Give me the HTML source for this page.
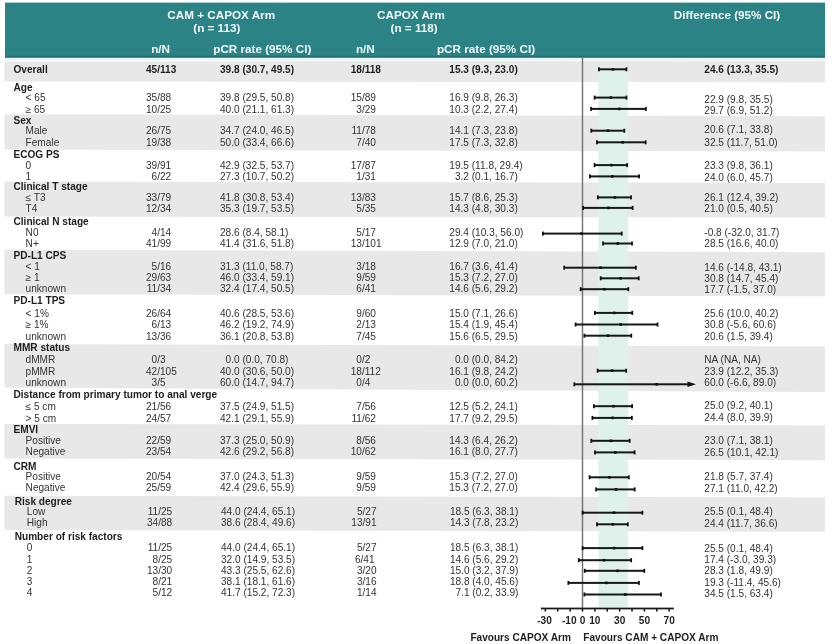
<!DOCTYPE html>
<html><head><meta charset="utf-8"><title>Forest plot</title>
<style>
html,body{margin:0;padding:0;background:#fff;}
body{width:832px;height:644px;position:relative;overflow:hidden;font-family:"Liberation Sans",sans-serif;}
svg text{font-family:"Liberation Sans",sans-serif;}
svg{will-change:transform;filter:blur(0.3px);}
</style></head><body>
<svg width="832" height="644" viewBox="0 0 832 644" style="position:absolute;left:0;top:0">
<rect x="5" y="2.6" width="820" height="55.2" fill="#2b8386"/>
<rect x="5" y="55.8" width="820" height="2" fill="#1f6e72"/>
<rect x="4.5" y="57.8" width="820.5" height="2.6" fill="#e6f6f7"/>
<polygon points="4.4,61.4 825.0,60.8 825.0,82.4 4.4,81.4" fill="#e8e8e8"/>
<polygon points="4.4,114.2 825.0,116.2 825.0,151.4 4.4,149.6" fill="#e8e8e8"/>
<polygon points="4.4,181.5 825.0,182.8 825.0,217.6 4.4,216.6" fill="#e8e8e8"/>
<polygon points="4.4,249.7 825.0,252.2 825.0,296.3 4.4,294.2" fill="#e8e8e8"/>
<polygon points="4.4,343.9 825.0,346.4 825.0,392.0 4.4,387.6" fill="#e8e8e8"/>
<polygon points="4.4,423.9 825.0,425.4 825.0,460.2 4.4,458.6" fill="#e8e8e8"/>
<polygon points="4.4,495.8 825.0,497.5 825.0,531.8 4.4,530.0" fill="#e8e8e8"/>
<rect x="598.4" y="70.5" width="29.60" height="536.5" fill="#dff1eb"/>
<rect x="581.80" y="57.6" width="1.4" height="551" fill="#707070"/>
<rect x="540.8" y="607.6" width="133" height="1.8" fill="#1a1a1a"/>
<rect x="544.61" y="608" width="1.5" height="3.6" fill="#1a1a1a"/>
<rect x="556.99" y="608" width="1.5" height="3.6" fill="#1a1a1a"/>
<rect x="569.37" y="608" width="1.5" height="3.6" fill="#1a1a1a"/>
<rect x="581.75" y="608" width="1.5" height="3.6" fill="#1a1a1a"/>
<rect x="594.13" y="608" width="1.5" height="3.6" fill="#1a1a1a"/>
<rect x="606.51" y="608" width="1.5" height="3.6" fill="#1a1a1a"/>
<rect x="618.89" y="608" width="1.5" height="3.6" fill="#1a1a1a"/>
<rect x="631.27" y="608" width="1.5" height="3.6" fill="#1a1a1a"/>
<rect x="643.65" y="608" width="1.5" height="3.6" fill="#1a1a1a"/>
<rect x="656.03" y="608" width="1.5" height="3.6" fill="#1a1a1a"/>
<rect x="668.41" y="608" width="1.5" height="3.6" fill="#1a1a1a"/>
<rect x="598.97" y="68.30" width="27.48" height="2" fill="#151a19"/>
<rect x="598.07" y="67.30" width="1.8" height="4" fill="#111"/>
<rect x="625.55" y="67.30" width="1.8" height="4" fill="#111"/>
<rect x="611.65" y="68.00" width="2.6" height="2.6" fill="#111"/>
<rect x="594.63" y="96.60" width="31.82" height="2" fill="#151a19"/>
<rect x="593.73" y="95.60" width="1.8" height="4" fill="#111"/>
<rect x="625.55" y="95.60" width="1.8" height="4" fill="#111"/>
<rect x="609.55" y="96.30" width="2.6" height="2.6" fill="#111"/>
<rect x="591.04" y="107.90" width="54.84" height="2" fill="#151a19"/>
<rect x="590.14" y="106.90" width="1.8" height="4" fill="#111"/>
<rect x="644.99" y="106.90" width="1.8" height="4" fill="#111"/>
<rect x="617.97" y="107.60" width="2.6" height="2.6" fill="#111"/>
<rect x="591.29" y="129.70" width="33.05" height="2" fill="#151a19"/>
<rect x="590.39" y="128.70" width="1.8" height="4" fill="#111"/>
<rect x="623.44" y="128.70" width="1.8" height="4" fill="#111"/>
<rect x="606.70" y="129.40" width="2.6" height="2.6" fill="#111"/>
<rect x="596.98" y="141.30" width="48.65" height="2" fill="#151a19"/>
<rect x="596.08" y="140.30" width="1.8" height="4" fill="#111"/>
<rect x="644.74" y="140.30" width="1.8" height="4" fill="#111"/>
<rect x="621.44" y="141.00" width="2.6" height="2.6" fill="#111"/>
<rect x="594.63" y="164.10" width="32.56" height="2" fill="#151a19"/>
<rect x="593.73" y="163.10" width="1.8" height="4" fill="#111"/>
<rect x="626.29" y="163.10" width="1.8" height="4" fill="#111"/>
<rect x="610.05" y="163.80" width="2.6" height="2.6" fill="#111"/>
<rect x="589.93" y="175.40" width="49.15" height="2" fill="#151a19"/>
<rect x="589.03" y="174.40" width="1.8" height="4" fill="#111"/>
<rect x="638.18" y="174.40" width="1.8" height="4" fill="#111"/>
<rect x="610.91" y="175.10" width="2.6" height="2.6" fill="#111"/>
<rect x="597.85" y="196.40" width="33.18" height="2" fill="#151a19"/>
<rect x="596.95" y="195.40" width="1.8" height="4" fill="#111"/>
<rect x="630.13" y="195.40" width="1.8" height="4" fill="#111"/>
<rect x="613.51" y="196.10" width="2.6" height="2.6" fill="#111"/>
<rect x="583.12" y="206.90" width="49.52" height="2" fill="#151a19"/>
<rect x="582.22" y="205.90" width="1.8" height="4" fill="#111"/>
<rect x="631.74" y="205.90" width="1.8" height="4" fill="#111"/>
<rect x="607.20" y="206.60" width="2.6" height="2.6" fill="#111"/>
<rect x="542.88" y="232.60" width="78.86" height="2" fill="#151a19"/>
<rect x="541.98" y="231.60" width="1.8" height="4" fill="#111"/>
<rect x="620.84" y="231.60" width="1.8" height="4" fill="#111"/>
<rect x="580.21" y="232.30" width="2.6" height="2.6" fill="#111"/>
<rect x="603.05" y="242.50" width="28.97" height="2" fill="#151a19"/>
<rect x="602.15" y="241.50" width="1.8" height="4" fill="#111"/>
<rect x="631.12" y="241.50" width="1.8" height="4" fill="#111"/>
<rect x="616.48" y="242.20" width="2.6" height="2.6" fill="#111"/>
<rect x="564.18" y="266.70" width="71.68" height="2" fill="#151a19"/>
<rect x="563.28" y="265.70" width="1.8" height="4" fill="#111"/>
<rect x="634.96" y="265.70" width="1.8" height="4" fill="#111"/>
<rect x="599.27" y="266.40" width="2.6" height="2.6" fill="#111"/>
<rect x="600.70" y="277.30" width="38.01" height="2" fill="#151a19"/>
<rect x="599.80" y="276.30" width="1.8" height="4" fill="#111"/>
<rect x="637.81" y="276.30" width="1.8" height="4" fill="#111"/>
<rect x="619.33" y="277.00" width="2.6" height="2.6" fill="#111"/>
<rect x="580.64" y="288.20" width="47.66" height="2" fill="#151a19"/>
<rect x="579.74" y="287.20" width="1.8" height="4" fill="#111"/>
<rect x="627.41" y="287.20" width="1.8" height="4" fill="#111"/>
<rect x="603.11" y="287.90" width="2.6" height="2.6" fill="#111"/>
<rect x="594.88" y="311.90" width="37.39" height="2" fill="#151a19"/>
<rect x="593.98" y="310.90" width="1.8" height="4" fill="#111"/>
<rect x="631.37" y="310.90" width="1.8" height="4" fill="#111"/>
<rect x="612.89" y="311.60" width="2.6" height="2.6" fill="#111"/>
<rect x="575.57" y="323.50" width="81.96" height="2" fill="#151a19"/>
<rect x="574.67" y="322.50" width="1.8" height="4" fill="#111"/>
<rect x="656.62" y="322.50" width="1.8" height="4" fill="#111"/>
<rect x="619.33" y="323.20" width="2.6" height="2.6" fill="#111"/>
<rect x="584.36" y="334.70" width="46.92" height="2" fill="#151a19"/>
<rect x="583.46" y="333.70" width="1.8" height="4" fill="#111"/>
<rect x="630.38" y="333.70" width="1.8" height="4" fill="#111"/>
<rect x="606.70" y="334.40" width="2.6" height="2.6" fill="#111"/>
<rect x="597.60" y="369.70" width="28.60" height="2" fill="#151a19"/>
<rect x="596.70" y="368.70" width="1.8" height="4" fill="#111"/>
<rect x="625.30" y="368.70" width="1.8" height="4" fill="#111"/>
<rect x="610.79" y="369.40" width="2.6" height="2.6" fill="#111"/>
<rect x="574.33" y="383.30" width="113.67" height="2" fill="#151a19"/>
<rect x="573.43" y="382.30" width="1.8" height="4" fill="#111"/>
<path d="M687.5 381.60 L696 384.30 L687.5 387.00 Z" fill="#111"/>
<rect x="655.48" y="383.00" width="2.6" height="2.6" fill="#111"/>
<rect x="593.89" y="405.20" width="38.25" height="2" fill="#151a19"/>
<rect x="592.99" y="404.20" width="1.8" height="4" fill="#111"/>
<rect x="631.24" y="404.20" width="1.8" height="4" fill="#111"/>
<rect x="612.15" y="404.90" width="2.6" height="2.6" fill="#111"/>
<rect x="592.40" y="416.90" width="39.49" height="2" fill="#151a19"/>
<rect x="591.50" y="415.90" width="1.8" height="4" fill="#111"/>
<rect x="631.00" y="415.90" width="1.8" height="4" fill="#111"/>
<rect x="611.41" y="416.60" width="2.6" height="2.6" fill="#111"/>
<rect x="591.29" y="439.80" width="38.38" height="2" fill="#151a19"/>
<rect x="590.39" y="438.80" width="1.8" height="4" fill="#111"/>
<rect x="628.77" y="438.80" width="1.8" height="4" fill="#111"/>
<rect x="609.67" y="439.50" width="2.6" height="2.6" fill="#111"/>
<rect x="595.00" y="451.40" width="39.62" height="2" fill="#151a19"/>
<rect x="594.10" y="450.40" width="1.8" height="4" fill="#111"/>
<rect x="633.72" y="450.40" width="1.8" height="4" fill="#111"/>
<rect x="614.01" y="451.10" width="2.6" height="2.6" fill="#111"/>
<rect x="589.56" y="476.30" width="39.24" height="2" fill="#151a19"/>
<rect x="588.66" y="475.30" width="1.8" height="4" fill="#111"/>
<rect x="627.90" y="475.30" width="1.8" height="4" fill="#111"/>
<rect x="608.19" y="476.00" width="2.6" height="2.6" fill="#111"/>
<rect x="596.12" y="488.40" width="38.63" height="2" fill="#151a19"/>
<rect x="595.22" y="487.40" width="1.8" height="4" fill="#111"/>
<rect x="633.84" y="487.40" width="1.8" height="4" fill="#111"/>
<rect x="614.75" y="488.10" width="2.6" height="2.6" fill="#111"/>
<rect x="582.62" y="511.70" width="59.80" height="2" fill="#151a19"/>
<rect x="581.72" y="510.70" width="1.8" height="4" fill="#111"/>
<rect x="641.52" y="510.70" width="1.8" height="4" fill="#111"/>
<rect x="612.77" y="511.40" width="2.6" height="2.6" fill="#111"/>
<rect x="596.98" y="523.30" width="30.83" height="2" fill="#151a19"/>
<rect x="596.08" y="522.30" width="1.8" height="4" fill="#111"/>
<rect x="626.91" y="522.30" width="1.8" height="4" fill="#111"/>
<rect x="611.41" y="523.00" width="2.6" height="2.6" fill="#111"/>
<rect x="582.62" y="547.10" width="59.80" height="2" fill="#151a19"/>
<rect x="581.72" y="546.10" width="1.8" height="4" fill="#111"/>
<rect x="641.52" y="546.10" width="1.8" height="4" fill="#111"/>
<rect x="612.77" y="546.80" width="2.6" height="2.6" fill="#111"/>
<rect x="578.79" y="559.20" width="52.37" height="2" fill="#151a19"/>
<rect x="577.89" y="558.20" width="1.8" height="4" fill="#111"/>
<rect x="630.25" y="558.20" width="1.8" height="4" fill="#111"/>
<rect x="602.74" y="558.90" width="2.6" height="2.6" fill="#111"/>
<rect x="584.73" y="569.80" width="59.55" height="2" fill="#151a19"/>
<rect x="583.83" y="568.80" width="1.8" height="4" fill="#111"/>
<rect x="643.38" y="568.80" width="1.8" height="4" fill="#111"/>
<rect x="616.24" y="569.50" width="2.6" height="2.6" fill="#111"/>
<rect x="568.39" y="581.90" width="70.57" height="2" fill="#151a19"/>
<rect x="567.49" y="580.90" width="1.8" height="4" fill="#111"/>
<rect x="638.05" y="580.90" width="1.8" height="4" fill="#111"/>
<rect x="605.09" y="581.60" width="2.6" height="2.6" fill="#111"/>
<rect x="584.36" y="593.50" width="76.63" height="2" fill="#151a19"/>
<rect x="583.46" y="592.50" width="1.8" height="4" fill="#111"/>
<rect x="660.09" y="592.50" width="1.8" height="4" fill="#111"/>
<rect x="623.91" y="593.20" width="2.6" height="2.6" fill="#111"/>
<text x="221.20" y="19.40" font-size="11.7" font-weight="bold" text-anchor="middle" fill="#f2f8f8">CAM + CAPOX Arm</text>
<text x="216.80" y="31.80" font-size="11.7" font-weight="bold" text-anchor="middle" fill="#f2f8f8">(n = 113)</text>
<text x="160.60" y="52.80" font-size="11.7" font-weight="bold" text-anchor="middle" fill="#f2f8f8">n/N</text>
<text x="262.30" y="52.80" font-size="11.7" font-weight="bold" text-anchor="middle" fill="#f2f8f8">pCR rate (95% CI)</text>
<text x="410.90" y="19.40" font-size="11.7" font-weight="bold" text-anchor="middle" fill="#f2f8f8">CAPOX Arm</text>
<text x="414.10" y="31.80" font-size="11.7" font-weight="bold" text-anchor="middle" fill="#f2f8f8">(n = 118)</text>
<text x="365.40" y="52.80" font-size="11.7" font-weight="bold" text-anchor="middle" fill="#f2f8f8">n/N</text>
<text x="486.00" y="52.80" font-size="11.7" font-weight="bold" text-anchor="middle" fill="#f2f8f8">pCR rate (95% CI)</text>
<text x="727.00" y="19.40" font-size="11.7" font-weight="bold" text-anchor="middle" fill="#f2f8f8">Difference (95% CI)</text>
<text x="13.50" y="73.20" font-size="10.1" font-weight="bold" fill="#1e1e1e">Overall</text>
<text x="157.20" y="73.20" font-size="10.1" font-weight="bold" text-anchor="end" fill="#1e1e1e">45</text>
<text x="157.20" y="73.20" font-size="10.1" font-weight="bold" fill="#1e1e1e">/113</text>
<text x="220.00" y="73.20" font-size="10.1" font-weight="bold" fill="#1e1e1e">39.8 (30.7, 49.5)</text>
<text x="361.90" y="73.20" font-size="10.1" font-weight="bold" text-anchor="end" fill="#1e1e1e">18</text>
<text x="361.90" y="73.20" font-size="10.1" font-weight="bold" fill="#1e1e1e">/118</text>
<text x="449.30" y="73.20" font-size="10.1" font-weight="bold" fill="#1e1e1e">15.3 (9.3, 23.0)</text>
<text x="704.30" y="72.90" font-size="10.1" font-weight="bold" fill="#1e1e1e">24.6 (13.3, 35.5)</text>
<text x="13.50" y="90.60" font-size="10.1" font-weight="bold" fill="#1e1e1e">Age</text>
<text x="25.60" y="100.70" font-size="10.1" fill="#333333">&lt; 65</text>
<text x="157.20" y="100.70" font-size="10.1" text-anchor="end" fill="#333333">35</text>
<text x="157.20" y="100.70" font-size="10.1" fill="#333333">/88</text>
<text x="220.00" y="100.70" font-size="10.1" fill="#333333">39.8 (29.5, 50.8)</text>
<text x="361.90" y="100.70" font-size="10.1" text-anchor="end" fill="#333333">15</text>
<text x="361.90" y="100.70" font-size="10.1" fill="#333333">/89</text>
<text x="449.30" y="100.70" font-size="10.1" fill="#333333">16.9 (9.8, 26.3)</text>
<text x="704.30" y="102.80" font-size="10.1" fill="#333333">22.9 (9.8, 35.5)</text>
<text x="25.60" y="112.50" font-size="10.1" fill="#333333">≥ 65</text>
<text x="157.20" y="112.50" font-size="10.1" text-anchor="end" fill="#333333">10</text>
<text x="157.20" y="112.50" font-size="10.1" fill="#333333">/25</text>
<text x="220.00" y="112.50" font-size="10.1" fill="#333333">40.0 (21.1, 61.3)</text>
<text x="361.90" y="112.50" font-size="10.1" text-anchor="end" fill="#333333">3</text>
<text x="361.90" y="112.50" font-size="10.1" fill="#333333">/29</text>
<text x="449.30" y="112.50" font-size="10.1" fill="#333333">10.3 (2.2, 27.4)</text>
<text x="704.30" y="113.60" font-size="10.1" fill="#333333">29.7 (6.9, 51.2)</text>
<text x="13.50" y="123.70" font-size="10.1" font-weight="bold" fill="#1e1e1e">Sex</text>
<text x="25.60" y="134.20" font-size="10.1" fill="#333333">Male</text>
<text x="157.20" y="134.20" font-size="10.1" text-anchor="end" fill="#333333">26</text>
<text x="157.20" y="134.20" font-size="10.1" fill="#333333">/75</text>
<text x="220.00" y="134.20" font-size="10.1" fill="#333333">34.7 (24.0, 46.5)</text>
<text x="361.90" y="134.20" font-size="10.1" text-anchor="end" fill="#333333">11</text>
<text x="361.90" y="134.20" font-size="10.1" fill="#333333">/78</text>
<text x="449.30" y="134.20" font-size="10.1" fill="#333333">14.1 (7.3, 23.8)</text>
<text x="704.30" y="132.50" font-size="10.1" fill="#333333">20.6 (7.1, 33.8)</text>
<text x="25.60" y="145.70" font-size="10.1" fill="#333333">Female</text>
<text x="157.20" y="145.70" font-size="10.1" text-anchor="end" fill="#333333">19</text>
<text x="157.20" y="145.70" font-size="10.1" fill="#333333">/38</text>
<text x="220.00" y="145.70" font-size="10.1" fill="#333333">50.0 (33.4, 66.6)</text>
<text x="361.90" y="145.70" font-size="10.1" text-anchor="end" fill="#333333">7</text>
<text x="361.90" y="145.70" font-size="10.1" fill="#333333">/40</text>
<text x="449.30" y="145.70" font-size="10.1" fill="#333333">17.5 (7.3, 32.8)</text>
<text x="704.30" y="145.60" font-size="10.1" fill="#333333">32.5 (11.7, 51.0)</text>
<text x="13.50" y="158.10" font-size="10.1" font-weight="bold" fill="#1e1e1e">ECOG PS</text>
<text x="25.60" y="168.60" font-size="10.1" fill="#333333">0</text>
<text x="157.20" y="168.60" font-size="10.1" text-anchor="end" fill="#333333">39</text>
<text x="157.20" y="168.60" font-size="10.1" fill="#333333">/91</text>
<text x="220.00" y="168.60" font-size="10.1" fill="#333333">42.9 (32.5, 53.7)</text>
<text x="361.90" y="168.60" font-size="10.1" text-anchor="end" fill="#333333">17</text>
<text x="361.90" y="168.60" font-size="10.1" fill="#333333">/87</text>
<text x="449.30" y="168.60" font-size="10.1" fill="#333333">19.5 (11.8, 29.4)</text>
<text x="704.30" y="168.70" font-size="10.1" fill="#333333">23.3 (9.8, 36.1)</text>
<text x="25.60" y="179.50" font-size="10.1" fill="#333333">1</text>
<text x="157.20" y="179.50" font-size="10.1" text-anchor="end" fill="#333333">6</text>
<text x="157.20" y="179.50" font-size="10.1" fill="#333333">/22</text>
<text x="220.00" y="179.50" font-size="10.1" fill="#333333">27.3 (10.7, 50.2)</text>
<text x="361.90" y="179.50" font-size="10.1" text-anchor="end" fill="#333333">1</text>
<text x="361.90" y="179.50" font-size="10.1" fill="#333333">/31</text>
<text x="454.92" y="179.50" font-size="10.1" fill="#333333">3.2 (0.1, 16.7)</text>
<text x="704.30" y="180.80" font-size="10.1" fill="#333333">24.0 (6.0, 45.7)</text>
<text x="13.50" y="190.00" font-size="10.1" font-weight="bold" fill="#1e1e1e">Clinical T stage</text>
<text x="25.60" y="201.00" font-size="10.1" fill="#333333">≤ T3</text>
<text x="157.20" y="201.00" font-size="10.1" text-anchor="end" fill="#333333">33</text>
<text x="157.20" y="201.00" font-size="10.1" fill="#333333">/79</text>
<text x="220.00" y="201.00" font-size="10.1" fill="#333333">41.8 (30.8, 53.4)</text>
<text x="361.90" y="201.00" font-size="10.1" text-anchor="end" fill="#333333">13</text>
<text x="361.90" y="201.00" font-size="10.1" fill="#333333">/83</text>
<text x="449.30" y="201.00" font-size="10.1" fill="#333333">15.7 (8.6, 25.3)</text>
<text x="704.30" y="200.50" font-size="10.1" fill="#333333">26.1 (12.4, 39.2)</text>
<text x="25.60" y="212.10" font-size="10.1" fill="#333333">T4</text>
<text x="157.20" y="212.10" font-size="10.1" text-anchor="end" fill="#333333">12</text>
<text x="157.20" y="212.10" font-size="10.1" fill="#333333">/34</text>
<text x="220.00" y="212.10" font-size="10.1" fill="#333333">35.3 (19.7, 53.5)</text>
<text x="361.90" y="212.10" font-size="10.1" text-anchor="end" fill="#333333">5</text>
<text x="361.90" y="212.10" font-size="10.1" fill="#333333">/35</text>
<text x="449.30" y="212.10" font-size="10.1" fill="#333333">14.3 (4.8, 30.3)</text>
<text x="704.30" y="212.10" font-size="10.1" fill="#333333">21.0 (0.5, 40.5)</text>
<text x="13.50" y="224.50" font-size="10.1" font-weight="bold" fill="#1e1e1e">Clinical N stage</text>
<text x="25.60" y="236.20" font-size="10.1" fill="#333333">N0</text>
<text x="157.20" y="236.20" font-size="10.1" text-anchor="end" fill="#333333">4</text>
<text x="157.20" y="236.20" font-size="10.1" fill="#333333">/14</text>
<text x="220.00" y="236.20" font-size="10.1" fill="#333333">28.6 (8.4, 58.1)</text>
<text x="361.90" y="236.20" font-size="10.1" text-anchor="end" fill="#333333">5</text>
<text x="361.90" y="236.20" font-size="10.1" fill="#333333">/17</text>
<text x="449.30" y="236.20" font-size="10.1" fill="#333333">29.4 (10.3, 56.0)</text>
<text x="704.30" y="235.80" font-size="10.1" fill="#333333">-0.8 (-32.0, 31.7)</text>
<text x="25.60" y="247.00" font-size="10.1" fill="#333333">N+</text>
<text x="157.20" y="247.00" font-size="10.1" text-anchor="end" fill="#333333">41</text>
<text x="157.20" y="247.00" font-size="10.1" fill="#333333">/99</text>
<text x="220.00" y="247.00" font-size="10.1" fill="#333333">41.4 (31.6, 51.8)</text>
<text x="361.90" y="247.00" font-size="10.1" text-anchor="end" fill="#333333">13</text>
<text x="361.90" y="247.00" font-size="10.1" fill="#333333">/101</text>
<text x="449.30" y="247.00" font-size="10.1" fill="#333333">12.9 (7.0, 21.0)</text>
<text x="704.30" y="246.90" font-size="10.1" fill="#333333">28.5 (16.6, 40.0)</text>
<text x="13.50" y="259.00" font-size="10.1" font-weight="bold" fill="#1e1e1e">PD-L1 CPS</text>
<text x="25.60" y="270.30" font-size="10.1" fill="#333333">&lt; 1</text>
<text x="157.20" y="270.30" font-size="10.1" text-anchor="end" fill="#333333">5</text>
<text x="157.20" y="270.30" font-size="10.1" fill="#333333">/16</text>
<text x="220.00" y="270.30" font-size="10.1" fill="#333333">31.3 (11.0, 58.7)</text>
<text x="361.90" y="270.30" font-size="10.1" text-anchor="end" fill="#333333">3</text>
<text x="361.90" y="270.30" font-size="10.1" fill="#333333">/18</text>
<text x="449.30" y="270.30" font-size="10.1" fill="#333333">16.7 (3.6, 41.4)</text>
<text x="704.30" y="270.60" font-size="10.1" fill="#333333">14.6 (-14.8, 43.1)</text>
<text x="25.60" y="281.10" font-size="10.1" fill="#333333">≥ 1</text>
<text x="157.20" y="281.10" font-size="10.1" text-anchor="end" fill="#333333">29</text>
<text x="157.20" y="281.10" font-size="10.1" fill="#333333">/63</text>
<text x="220.00" y="281.10" font-size="10.1" fill="#333333">46.0 (33.4, 59.1)</text>
<text x="361.90" y="281.10" font-size="10.1" text-anchor="end" fill="#333333">9</text>
<text x="361.90" y="281.10" font-size="10.1" fill="#333333">/59</text>
<text x="449.30" y="281.10" font-size="10.1" fill="#333333">15.3 (7.2, 27.0)</text>
<text x="704.30" y="281.60" font-size="10.1" fill="#333333">30.8 (14.7, 45.4)</text>
<text x="25.60" y="292.00" font-size="10.1" fill="#333333">unknown</text>
<text x="157.20" y="292.00" font-size="10.1" text-anchor="end" fill="#333333">11</text>
<text x="157.20" y="292.00" font-size="10.1" fill="#333333">/34</text>
<text x="220.00" y="292.00" font-size="10.1" fill="#333333">32.4 (17.4, 50.5)</text>
<text x="361.90" y="292.00" font-size="10.1" text-anchor="end" fill="#333333">6</text>
<text x="361.90" y="292.00" font-size="10.1" fill="#333333">/41</text>
<text x="449.30" y="292.00" font-size="10.1" fill="#333333">14.6 (5.6, 29.2)</text>
<text x="704.30" y="293.20" font-size="10.1" fill="#333333">17.7 (-1.5, 37.0)</text>
<text x="13.50" y="303.70" font-size="10.1" font-weight="bold" fill="#1e1e1e">PD-L1 TPS</text>
<text x="25.60" y="316.90" font-size="10.1" fill="#333333">&lt; 1%</text>
<text x="157.20" y="316.90" font-size="10.1" text-anchor="end" fill="#333333">26</text>
<text x="157.20" y="316.90" font-size="10.1" fill="#333333">/64</text>
<text x="220.00" y="316.90" font-size="10.1" fill="#333333">40.6 (28.5, 53.6)</text>
<text x="361.90" y="316.90" font-size="10.1" text-anchor="end" fill="#333333">9</text>
<text x="361.90" y="316.90" font-size="10.1" fill="#333333">/60</text>
<text x="449.30" y="316.90" font-size="10.1" fill="#333333">15.0 (7.1, 26.6)</text>
<text x="704.30" y="316.50" font-size="10.1" fill="#333333">25.6 (10.0, 40.2)</text>
<text x="25.60" y="328.20" font-size="10.1" fill="#333333">≥ 1%</text>
<text x="157.20" y="328.20" font-size="10.1" text-anchor="end" fill="#333333">6</text>
<text x="157.20" y="328.20" font-size="10.1" fill="#333333">/13</text>
<text x="220.00" y="328.20" font-size="10.1" fill="#333333">46.2 (19.2, 74.9)</text>
<text x="361.90" y="328.20" font-size="10.1" text-anchor="end" fill="#333333">2</text>
<text x="361.90" y="328.20" font-size="10.1" fill="#333333">/13</text>
<text x="449.30" y="328.20" font-size="10.1" fill="#333333">15.4 (1.9, 45.4)</text>
<text x="704.30" y="328.10" font-size="10.1" fill="#333333">30.8 (-5.6, 60.6)</text>
<text x="25.60" y="339.60" font-size="10.1" fill="#333333">unknown</text>
<text x="157.20" y="339.60" font-size="10.1" text-anchor="end" fill="#333333">13</text>
<text x="157.20" y="339.60" font-size="10.1" fill="#333333">/36</text>
<text x="220.00" y="339.60" font-size="10.1" fill="#333333">36.1 (20.8, 53.8)</text>
<text x="361.90" y="339.60" font-size="10.1" text-anchor="end" fill="#333333">7</text>
<text x="361.90" y="339.60" font-size="10.1" fill="#333333">/45</text>
<text x="449.30" y="339.60" font-size="10.1" fill="#333333">15.6 (6.5, 29.5)</text>
<text x="704.30" y="339.60" font-size="10.1" fill="#333333">20.6 (1.5, 39.4)</text>
<text x="13.50" y="351.30" font-size="10.1" font-weight="bold" fill="#1e1e1e">MMR status</text>
<text x="25.60" y="363.20" font-size="10.1" fill="#333333">dMMR</text>
<text x="157.20" y="363.20" font-size="10.1" text-anchor="end" fill="#333333">0</text>
<text x="157.20" y="363.20" font-size="10.1" fill="#333333">/3</text>
<text x="225.62" y="363.20" font-size="10.1" fill="#333333">0.0 (0.0, 70.8)</text>
<text x="361.90" y="363.20" font-size="10.1" text-anchor="end" fill="#333333">0</text>
<text x="361.90" y="363.20" font-size="10.1" fill="#333333">/2</text>
<text x="454.92" y="363.20" font-size="10.1" fill="#333333">0.0 (0.0, 84.2)</text>
<text x="704.30" y="363.30" font-size="10.1" fill="#333333">NA (NA, NA)</text>
<text x="25.60" y="375.10" font-size="10.1" fill="#333333">pMMR</text>
<text x="157.20" y="375.10" font-size="10.1" text-anchor="end" fill="#333333">42</text>
<text x="157.20" y="375.10" font-size="10.1" fill="#333333">/105</text>
<text x="220.00" y="375.10" font-size="10.1" fill="#333333">40.0 (30.6, 50.0)</text>
<text x="361.90" y="375.10" font-size="10.1" text-anchor="end" fill="#333333">18</text>
<text x="361.90" y="375.10" font-size="10.1" fill="#333333">/112</text>
<text x="449.30" y="375.10" font-size="10.1" fill="#333333">16.1 (9.8, 24.2)</text>
<text x="704.30" y="375.00" font-size="10.1" fill="#333333">23.9 (12.2, 35.3)</text>
<text x="25.60" y="385.80" font-size="10.1" fill="#333333">unknown</text>
<text x="157.20" y="385.80" font-size="10.1" text-anchor="end" fill="#333333">3</text>
<text x="157.20" y="385.80" font-size="10.1" fill="#333333">/5</text>
<text x="220.00" y="385.80" font-size="10.1" fill="#333333">60.0 (14.7, 94.7)</text>
<text x="361.90" y="385.80" font-size="10.1" text-anchor="end" fill="#333333">0</text>
<text x="361.90" y="385.80" font-size="10.1" fill="#333333">/4</text>
<text x="454.92" y="385.80" font-size="10.1" fill="#333333">0.0 (0.0, 60.2)</text>
<text x="704.30" y="386.10" font-size="10.1" fill="#333333">60.0 (-6.6, 89.0)</text>
<text x="13.50" y="398.30" font-size="10.1" font-weight="bold" fill="#1e1e1e">Distance from primary tumor to anal verge</text>
<text x="25.60" y="410.00" font-size="10.1" fill="#333333">≤ 5 cm</text>
<text x="157.20" y="410.00" font-size="10.1" text-anchor="end" fill="#333333">21</text>
<text x="157.20" y="410.00" font-size="10.1" fill="#333333">/56</text>
<text x="220.00" y="410.00" font-size="10.1" fill="#333333">37.5 (24.9, 51.5)</text>
<text x="361.90" y="410.00" font-size="10.1" text-anchor="end" fill="#333333">7</text>
<text x="361.90" y="410.00" font-size="10.1" fill="#333333">/56</text>
<text x="449.30" y="410.00" font-size="10.1" fill="#333333">12.5 (5.2, 24.1)</text>
<text x="704.30" y="409.20" font-size="10.1" fill="#333333">25.0 (9.2, 40.1)</text>
<text x="25.60" y="421.60" font-size="10.1" fill="#333333">&gt; 5 cm</text>
<text x="157.20" y="421.60" font-size="10.1" text-anchor="end" fill="#333333">24</text>
<text x="157.20" y="421.60" font-size="10.1" fill="#333333">/57</text>
<text x="220.00" y="421.60" font-size="10.1" fill="#333333">42.1 (29.1, 55.9)</text>
<text x="361.90" y="421.60" font-size="10.1" text-anchor="end" fill="#333333">11</text>
<text x="361.90" y="421.60" font-size="10.1" fill="#333333">/62</text>
<text x="449.30" y="421.60" font-size="10.1" fill="#333333">17.7 (9.2, 29.5)</text>
<text x="704.30" y="420.80" font-size="10.1" fill="#333333">24.4 (8.0, 39.9)</text>
<text x="13.50" y="433.20" font-size="10.1" font-weight="bold" fill="#1e1e1e">EMVI</text>
<text x="25.60" y="444.10" font-size="10.1" fill="#333333">Positive</text>
<text x="157.20" y="444.10" font-size="10.1" text-anchor="end" fill="#333333">22</text>
<text x="157.20" y="444.10" font-size="10.1" fill="#333333">/59</text>
<text x="220.00" y="444.10" font-size="10.1" fill="#333333">37.3 (25.0, 50.9)</text>
<text x="361.90" y="444.10" font-size="10.1" text-anchor="end" fill="#333333">8</text>
<text x="361.90" y="444.10" font-size="10.1" fill="#333333">/56</text>
<text x="449.30" y="444.10" font-size="10.1" fill="#333333">14.3 (6.4, 26.2)</text>
<text x="704.30" y="443.50" font-size="10.1" fill="#333333">23.0 (7.1, 38.1)</text>
<text x="25.60" y="455.00" font-size="10.1" fill="#333333">Negative</text>
<text x="157.20" y="455.00" font-size="10.1" text-anchor="end" fill="#333333">23</text>
<text x="157.20" y="455.00" font-size="10.1" fill="#333333">/54</text>
<text x="220.00" y="455.00" font-size="10.1" fill="#333333">42.6 (29.2, 56.8)</text>
<text x="361.90" y="455.00" font-size="10.1" text-anchor="end" fill="#333333">10</text>
<text x="361.90" y="455.00" font-size="10.1" fill="#333333">/62</text>
<text x="449.30" y="455.00" font-size="10.1" fill="#333333">16.1 (8.0, 27.7)</text>
<text x="704.30" y="455.60" font-size="10.1" fill="#333333">26.5 (10.1, 42.1)</text>
<text x="13.50" y="469.70" font-size="10.1" font-weight="bold" fill="#1e1e1e">CRM</text>
<text x="25.60" y="480.20" font-size="10.1" fill="#333333">Positive</text>
<text x="157.20" y="480.20" font-size="10.1" text-anchor="end" fill="#333333">20</text>
<text x="157.20" y="480.20" font-size="10.1" fill="#333333">/54</text>
<text x="220.00" y="480.20" font-size="10.1" fill="#333333">37.0 (24.3, 51.3)</text>
<text x="361.90" y="480.20" font-size="10.1" text-anchor="end" fill="#333333">9</text>
<text x="361.90" y="480.20" font-size="10.1" fill="#333333">/59</text>
<text x="449.30" y="480.20" font-size="10.1" fill="#333333">15.3 (7.2, 27.0)</text>
<text x="704.30" y="480.40" font-size="10.1" fill="#333333">21.8 (5.7, 37.4)</text>
<text x="25.60" y="491.40" font-size="10.1" fill="#333333">Negative</text>
<text x="157.20" y="491.40" font-size="10.1" text-anchor="end" fill="#333333">25</text>
<text x="157.20" y="491.40" font-size="10.1" fill="#333333">/59</text>
<text x="220.00" y="491.40" font-size="10.1" fill="#333333">42.4 (29.6, 55.9)</text>
<text x="361.90" y="491.40" font-size="10.1" text-anchor="end" fill="#333333">9</text>
<text x="361.90" y="491.40" font-size="10.1" fill="#333333">/59</text>
<text x="449.30" y="491.40" font-size="10.1" fill="#333333">15.3 (7.2, 27.0)</text>
<text x="704.30" y="492.00" font-size="10.1" fill="#333333">27.1 (11.0, 42.2)</text>
<text x="14.70" y="504.60" font-size="10.1" font-weight="bold" fill="#1e1e1e">Risk degree</text>
<text x="26.80" y="515.20" font-size="10.1" fill="#333333">Low</text>
<text x="158.20" y="515.20" font-size="10.1" text-anchor="end" fill="#333333">11</text>
<text x="158.20" y="515.20" font-size="10.1" fill="#333333">/25</text>
<text x="221.00" y="515.20" font-size="10.1" fill="#333333">44.0 (24.4, 65.1)</text>
<text x="362.50" y="515.20" font-size="10.1" text-anchor="end" fill="#333333">5</text>
<text x="362.50" y="515.20" font-size="10.1" fill="#333333">/27</text>
<text x="449.90" y="515.20" font-size="10.1" fill="#333333">18.5 (6.3, 38.1)</text>
<text x="704.30" y="515.20" font-size="10.1" fill="#333333">25.5 (0.1, 48.4)</text>
<text x="26.80" y="526.40" font-size="10.1" fill="#333333">High</text>
<text x="158.20" y="526.40" font-size="10.1" text-anchor="end" fill="#333333">34</text>
<text x="158.20" y="526.40" font-size="10.1" fill="#333333">/88</text>
<text x="221.00" y="526.40" font-size="10.1" fill="#333333">38.6 (28.4, 49.6)</text>
<text x="362.50" y="526.40" font-size="10.1" text-anchor="end" fill="#333333">13</text>
<text x="362.50" y="526.40" font-size="10.1" fill="#333333">/91</text>
<text x="449.90" y="526.40" font-size="10.1" fill="#333333">14.3 (7.8, 23.2)</text>
<text x="704.30" y="527.30" font-size="10.1" fill="#333333">24.4 (11.7, 36.6)</text>
<text x="14.70" y="540.40" font-size="10.1" font-weight="bold" fill="#1e1e1e">Number of risk factors</text>
<text x="26.80" y="551.30" font-size="10.1" fill="#333333">0</text>
<text x="158.20" y="551.30" font-size="10.1" text-anchor="end" fill="#333333">11</text>
<text x="158.20" y="551.30" font-size="10.1" fill="#333333">/25</text>
<text x="221.00" y="551.30" font-size="10.1" fill="#333333">44.0 (24.4, 65.1)</text>
<text x="362.50" y="551.30" font-size="10.1" text-anchor="end" fill="#333333">5</text>
<text x="362.50" y="551.30" font-size="10.1" fill="#333333">/27</text>
<text x="449.90" y="551.30" font-size="10.1" fill="#333333">18.5 (6.3, 38.1)</text>
<text x="704.30" y="552.00" font-size="10.1" fill="#333333">25.5 (0.1, 48.4)</text>
<text x="26.80" y="562.50" font-size="10.1" fill="#333333">1</text>
<text x="158.20" y="562.50" font-size="10.1" text-anchor="end" fill="#333333">8</text>
<text x="158.20" y="562.50" font-size="10.1" fill="#333333">/25</text>
<text x="221.00" y="562.50" font-size="10.1" fill="#333333">32.0 (14.9, 53.5)</text>
<text x="360.50" y="562.50" font-size="10.1" text-anchor="end" fill="#333333">6</text>
<text x="360.50" y="562.50" font-size="10.1" fill="#333333">/41</text>
<text x="449.90" y="562.50" font-size="10.1" fill="#333333">14.6 (5.6, 29.2)</text>
<text x="704.30" y="563.10" font-size="10.1" fill="#333333">17.4 (-3.0, 39.3)</text>
<text x="26.80" y="573.80" font-size="10.1" fill="#333333">2</text>
<text x="158.20" y="573.80" font-size="10.1" text-anchor="end" fill="#333333">13</text>
<text x="158.20" y="573.80" font-size="10.1" fill="#333333">/30</text>
<text x="221.00" y="573.80" font-size="10.1" fill="#333333">43.3 (25.5, 62.6)</text>
<text x="362.50" y="573.80" font-size="10.1" text-anchor="end" fill="#333333">3</text>
<text x="362.50" y="573.80" font-size="10.1" fill="#333333">/20</text>
<text x="449.90" y="573.80" font-size="10.1" fill="#333333">15.0 (3.2, 37.9)</text>
<text x="704.30" y="574.20" font-size="10.1" fill="#333333">28.3 (1.8, 49.9)</text>
<text x="26.80" y="585.00" font-size="10.1" fill="#333333">3</text>
<text x="158.20" y="585.00" font-size="10.1" text-anchor="end" fill="#333333">8</text>
<text x="158.20" y="585.00" font-size="10.1" fill="#333333">/21</text>
<text x="221.00" y="585.00" font-size="10.1" fill="#333333">38.1 (18.1, 61.6)</text>
<text x="362.50" y="585.00" font-size="10.1" text-anchor="end" fill="#333333">3</text>
<text x="362.50" y="585.00" font-size="10.1" fill="#333333">/16</text>
<text x="449.90" y="585.00" font-size="10.1" fill="#333333">18.8 (4.0, 45.6)</text>
<text x="704.30" y="585.90" font-size="10.1" fill="#333333">19.3 (-11.4, 45.6)</text>
<text x="26.80" y="596.00" font-size="10.1" fill="#333333">4</text>
<text x="158.20" y="596.00" font-size="10.1" text-anchor="end" fill="#333333">5</text>
<text x="158.20" y="596.00" font-size="10.1" fill="#333333">/12</text>
<text x="221.00" y="596.00" font-size="10.1" fill="#333333">41.7 (15.2, 72.3)</text>
<text x="362.50" y="596.00" font-size="10.1" text-anchor="end" fill="#333333">1</text>
<text x="362.50" y="596.00" font-size="10.1" fill="#333333">/14</text>
<text x="455.52" y="596.00" font-size="10.1" fill="#333333">7.1 (0.2, 33.9)</text>
<text x="704.30" y="597.00" font-size="10.1" fill="#333333">34.5 (1.5, 63.4)</text>
<text x="544.46" y="623.60" font-size="10.1" font-weight="bold" text-anchor="middle" fill="#1e1e1e">-30</text>
<text x="569.22" y="623.60" font-size="10.1" font-weight="bold" text-anchor="middle" fill="#1e1e1e">-10</text>
<text x="582.50" y="623.60" font-size="10.1" font-weight="bold" text-anchor="middle" fill="#1e1e1e">0</text>
<text x="594.88" y="623.60" font-size="10.1" font-weight="bold" text-anchor="middle" fill="#1e1e1e">10</text>
<text x="619.64" y="623.60" font-size="10.1" font-weight="bold" text-anchor="middle" fill="#1e1e1e">30</text>
<text x="644.40" y="623.60" font-size="10.1" font-weight="bold" text-anchor="middle" fill="#1e1e1e">50</text>
<text x="669.16" y="623.60" font-size="10.1" font-weight="bold" text-anchor="middle" fill="#1e1e1e">70</text>
<text x="470.40" y="641.20" font-size="10.1" font-weight="bold" fill="#1e1e1e">Favours CAPOX Arm</text>
<text x="583.30" y="641.20" font-size="10.1" font-weight="bold" fill="#1e1e1e">Favours CAM + CAPOX Arm</text>
</svg>
</body></html>
